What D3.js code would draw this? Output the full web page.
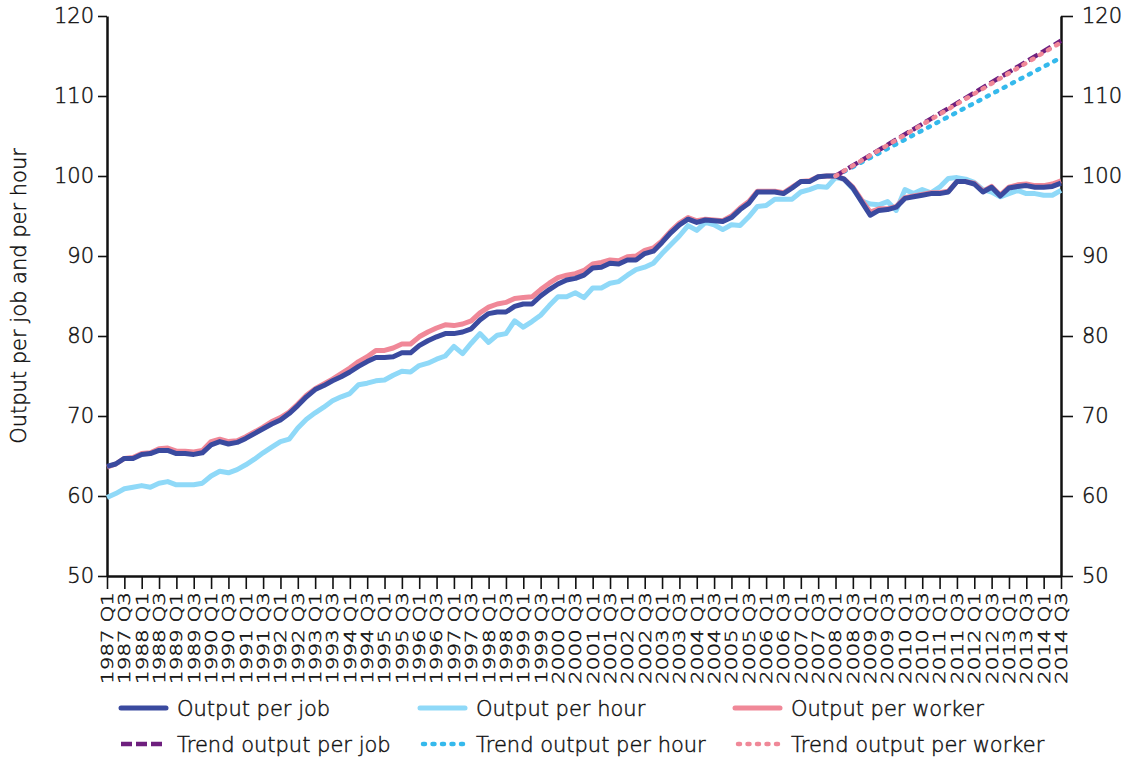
<!DOCTYPE html>
<html>
<head>
<meta charset="UTF-8"/>
<style>
  body { margin: 0; background: #fff; }
  text { font-family: "DejaVu Sans", "Liberation Sans", Arial, sans-serif; font-weight: 300;
         fill: #111; stroke: #111; stroke-width: 0.45px; }
</style>
</head>
<body>
<script src="https://cdn.jsdelivr.net/npm/d3@7"></script>
<script>
// quarters 1987 Q1 .. 2014 Q3
var quarters = [];
for (var yr = 1987; yr <= 2014; yr++) {
  for (var q = 1; q <= 4; q++) quarters.push(yr + " Q" + q);
}
quarters = quarters.slice(0, quarters.indexOf("2014 Q3") + 1);

// index values
var outputPerJob = [
  63.7, 64.0, 64.7, 64.7, 65.2, 65.3, 65.7, 65.7, 65.3, 65.3, 65.2, 65.4,
  66.4, 66.8, 66.5, 66.7, 67.2, 67.8, 68.4, 69.0, 69.5, 70.3, 71.3, 72.4,
  73.3, 73.8, 74.4, 74.9, 75.5, 76.2, 76.8, 77.3, 77.3, 77.4, 77.9, 77.9,
  78.8, 79.4, 79.9, 80.3, 80.3, 80.5, 80.9, 82.0, 82.8, 83.0, 83.0, 83.7,
  84.0, 84.0, 85.0, 85.8, 86.5, 87.0, 87.2, 87.6, 88.5, 88.6, 89.1, 89.0,
  89.5, 89.5, 90.3, 90.6, 91.7, 92.9, 93.9, 94.6, 94.2, 94.5, 94.4, 94.3,
  94.8, 95.8, 96.6, 98.0, 98.0, 98.0, 97.8, 98.5, 99.3, 99.3, 99.9, 100.0,
  100.0, 99.6, 98.5, 96.8, 95.1, 95.7, 95.8, 96.1, 97.2, 97.4, 97.6, 97.8,
  97.8, 98.0, 99.3, 99.3, 99.0, 98.0, 98.6, 97.5, 98.5, 98.7, 98.8, 98.6,
  98.6, 98.7, 99.1
];
var outputPerHour = [
  59.8, 60.3, 60.9, 61.1, 61.3, 61.1, 61.6, 61.8, 61.4, 61.4, 61.4, 61.6,
  62.5, 63.1, 62.9, 63.3, 63.9, 64.6, 65.4, 66.1, 66.8, 67.1, 68.5, 69.6,
  70.4, 71.1, 71.9, 72.4, 72.8, 73.9, 74.1, 74.4, 74.5, 75.1, 75.6, 75.5,
  76.3, 76.6, 77.1, 77.5, 78.7, 77.8, 79.1, 80.3, 79.2, 80.1, 80.3, 81.9,
  81.1, 81.8, 82.6, 83.8, 84.9, 84.9, 85.4, 84.8, 86.0, 86.0, 86.6, 86.8,
  87.6, 88.3, 88.6, 89.1, 90.3, 91.4, 92.5, 93.8, 93.2, 94.2, 93.9, 93.3,
  93.9, 93.8, 94.9, 96.2, 96.3, 97.1, 97.1, 97.1, 98.0, 98.3, 98.7, 98.6,
  99.8, 99.6, 98.4, 96.9, 96.5, 96.4, 96.8, 95.7, 98.3, 97.8, 98.3, 97.9,
  98.6, 99.7, 99.8, 99.6, 99.2, 98.3, 98.0, 97.4, 97.8, 98.2, 97.8, 97.8,
  97.6, 97.6, 98.2
];
var outputPerWorker = [
  63.6, 64.0, 64.7, 64.8, 65.3, 65.4, 65.9, 66.0, 65.6, 65.6, 65.5, 65.7,
  66.8, 67.1, 66.8, 66.9, 67.4, 68.0, 68.6, 69.3, 69.8, 70.5, 71.5, 72.6,
  73.4, 74.0, 74.6, 75.3, 76.0, 76.8, 77.4, 78.2, 78.2, 78.5, 79.0, 79.0,
  79.9, 80.5, 81.0, 81.4, 81.3, 81.5, 81.9, 82.9, 83.6, 84.0, 84.2, 84.7,
  84.8, 84.9, 85.8, 86.6, 87.3, 87.6, 87.8, 88.2, 89.0, 89.2, 89.5, 89.4,
  89.9, 90.0, 90.7, 91.0, 91.9, 93.1, 94.1, 94.8, 94.4, 94.6, 94.5, 94.4,
  95.0, 96.0, 96.8, 98.1, 98.1, 98.1, 97.9, 98.6, 99.3, 99.4, 99.9, 100.0,
  100.0, 99.6, 98.6, 97.0, 95.5, 95.9, 95.9, 96.2, 97.3, 97.5, 97.7, 97.9,
  97.9, 98.1, 99.3, 99.3, 99.1, 98.1, 98.7, 97.6, 98.6, 98.9, 99.0, 98.8,
  98.8, 99.0, 99.4
];

// trend lines: straight from 2008 Q1 to the last quarter
var trendQuarters = ["2008 Q1", "2014 Q3"];
var trendJob = [100, 116.9];
var trendHour = [100, 114.8];
var trendWorker = [100, 116.7];

var yTicks = [50, 60, 70, 80, 90, 100, 110, 120];

var W = 1130, H = 758;
var plotLeft = 107, plotRight = 1061, plotTop = 16, plotBottom = 576;

var svg = d3.select("body").append("svg")
  .attr("width", W)
  .attr("height", H);

var x = d3.scaleLinear().domain([0, quarters.length - 1]).range([plotLeft, plotRight]);
var y = d3.scaleLinear().domain([50, 120]).range([plotBottom, plotTop]);

var line = d3.line()
  .x(function(d, i) { return x(i); })
  .y(function(d) { return y(d); });

var trendLine = d3.line()
  .x(function(d, i) { return x(quarters.indexOf(trendQuarters[i])); })
  .y(function(d) { return y(d); });

// axes
var gl = svg.append("g")
  .attr("transform", "translate(" + plotLeft + ",0)")
  .call(d3.axisLeft(y).tickValues(yTicks).tickSize(9).tickSizeOuter(0).tickPadding(4));
var gr = svg.append("g")
  .attr("transform", "translate(" + plotRight + ",0)")
  .call(d3.axisRight(y).tickValues(yTicks).tickSize(12).tickSizeOuter(0).tickPadding(9));
[gl, gr].forEach(function(g) {
  g.selectAll("text").attr("font-size", 21).attr("font-family", null).attr("fill", null);
});

var evenIdx = d3.range(0, quarters.length, 2);
var gx = svg.append("g")
  .attr("transform", "translate(0," + plotBottom + ")")
  .call(d3.axisBottom(x).tickValues(evenIdx).tickSize(13).tickSizeOuter(0)
    .tickFormat(function(i) { return quarters[i]; }));
gx.selectAll("text")
  .attr("font-size", 15)
  .attr("font-family", null)
  .attr("fill", null)
  .attr("x", 0).attr("y", 0).attr("dy", "0.36em")
  .attr("text-anchor", "end")
  .attr("transform", "translate(0,16) rotate(-90) scale(1.43,1)");

svg.selectAll(".domain").attr("stroke", "#111").attr("stroke-width", 2.5);
svg.selectAll(".tick line").attr("stroke", "#111").attr("stroke-width", 1.6);

// y title
svg.append("text")
  .attr("transform", "translate(26," + ((plotTop + plotBottom) / 2) + ") rotate(-90)")
  .attr("text-anchor", "middle")
  .attr("font-size", 21)
  .text("Output per job and per hour");

// series
var series = [
  { name: "Output per hour", data: outputPerHour, color: "#8fd9f8" },
  { name: "Output per worker", data: outputPerWorker, color: "#f08898" },
  { name: "Output per job", data: outputPerJob, color: "#3a4a9f" }
];
svg.selectAll("path.series")
  .data(series)
  .enter().append("path")
    .attr("class", "series")
    .attr("fill", "none")
    .attr("stroke", function(d) { return d.color; })
    .attr("stroke-width", 5)
    .attr("stroke-linejoin", "round")
    .attr("d", function(d) { return line(d.data); });

var trends = [
  { name: "Trend output per hour", data: trendHour, color: "#35b9ec", dash: "2,7.5", cap: "round" },
  { name: "Trend output per job", data: trendJob, color: "#6e1f7e", dash: "11,4", cap: "butt" },
  { name: "Trend output per worker", data: trendWorker, color: "#f08898", dash: "2,7.5", cap: "round" }
];
svg.selectAll("path.trend")
  .data(trends)
  .enter().append("path")
    .attr("class", "trend")
    .attr("fill", "none")
    .attr("stroke", function(d) { return d.color; })
    .attr("stroke-width", 4.5)
    .attr("stroke-linecap", function(d) { return d.cap; })
    .attr("stroke-dasharray", function(d) { return d.dash; })
    .attr("d", function(d) { return trendLine(d.data); });

// legend
var legend = [
  { name: "Output per job", color: "#3a4a9f", dash: null, cap: "round", col: 0, row: 0 },
  { name: "Output per hour", color: "#8fd9f8", dash: null, cap: "round", col: 1, row: 0 },
  { name: "Output per worker", color: "#f08898", dash: null, cap: "round", col: 2, row: 0 },
  { name: "Trend output per job", color: "#6e1f7e", dash: "11,4", cap: "butt", col: 0, row: 1 },
  { name: "Trend output per hour", color: "#35b9ec", dash: "2,7.5", cap: "round", col: 1, row: 1 },
  { name: "Trend output per worker", color: "#f08898", dash: "2,7.5", cap: "round", col: 2, row: 1 }
];
var colX = [121, 420, 735], rowY = [708, 744];

var lg = svg.selectAll("g.leg")
  .data(legend)
  .enter().append("g")
    .attr("class", "leg")
    .attr("transform", function(d) { return "translate(" + colX[d.col] + "," + rowY[d.row] + ")"; });
lg.append("line")
  .attr("x1", function(d) { return d.cap === "round" && d.dash ? 3 : 0; })
  .attr("x2", 45)
  .attr("stroke", function(d) { return d.color; })
  .attr("stroke-width", function(d) { return d.dash ? 4.5 : 5; })
  .attr("stroke-linecap", function(d) { return d.cap; })
  .attr("stroke-dasharray", function(d) { return d.dash; });
lg.append("text")
  .attr("x", 56)
  .attr("dy", "0.36em")
  .attr("font-size", 21)
  .text(function(d) { return d.name; });
</script>
</body>
</html>
